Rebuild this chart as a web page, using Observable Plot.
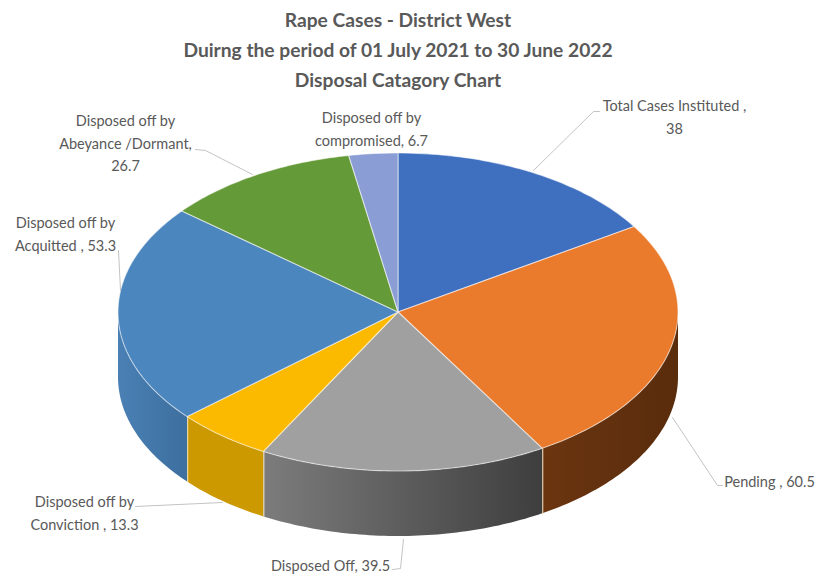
<!DOCTYPE html>
<html>
<head>
<meta charset="utf-8">
<script src="https://cdn.jsdelivr.net/npm/d3@7"></script>
<script src="https://cdn.jsdelivr.net/npm/@observablehq/plot@0.6"></script>
<style>
  html, body { margin: 0; background: #fff; }
  #title { box-sizing: border-box; width: 796px; height: 97px; padding-top: 5px; text-align: center;
           font: bold 19.2px/30px Lato, sans-serif; color: #595959; }
  svg { display: block; }
</style>
</head>
<body>
<div id="title">Rape Cases - District West<br>Duirng the period of 01 July 2021 to 30 June 2022<br>Disposal Catagory Chart</div>
<div id="chart"></div>
<script>
// Disposal categories, clockwise from twelve o'clock
const categories = ["Total Cases Instituted", "Pending", "Disposed Off", "Conviction", "Acquitted", "Abeyance", "Compromised"];
const values = [38, 60.5, 39.5, 13.3, 53.3, 26.7, 6.7];
const labelPrefixes = ["Total Cases Instituted ,\n", "Pending , ", "Disposed Off, ", "Disposed off by\nConviction , ", "Disposed off by\nAcquitted , ", "Disposed off by\nAbeyance /Dormant,\n", "Disposed off by\ncompromised, "];
const topColors = ["#3f6fbf", "#ea7b2c", "#a0a0a0", "#fbb900", "#4c86be", "#649a38", "#8a9dd4"];
const sideStart = ["#2b4d85", "#6b3510", "#7c7c7c", "#cc9a00", "#4a80b4", "#47702a", "#6072a0"];
const sideEnd = ["#2b4d85", "#592c0c", "#3e3e3e", "#cc9a00", "#3d6f9f", "#47702a", "#6072a0"];

// Label block centres and leader paths, in page pixels
const labelX = [674, 769, 330, 84, 65, 125, 371];
const labelY = [115, 479, 563, 511, 232, 141, 127];
const leaders = [
  [[533, 170], [593, 111], [599, 111]],
  [[672, 417], [717, 485], [722, 485]],
  [[403, 539], [400, 568], [392, 569]],
  [[222, 502], [135, 506]],
  [[120, 290], [118, 250]],
  [[252, 174], [205, 150], [195, 149]]
];

// Pie geometry: ellipse of the top face plus the wall depth
const width = 819, height = 480, titleHeight = 97;
const cx = 398, cy = 312, rx = 280, ry = 159, depth = 65;

const toRim = (a, drop = 0) => ({x: cx + rx * Math.sin(a), y: cy - ry * Math.cos(a) + drop});
const slices = d3.pie().sort(null)(values);

function arcAngles(from, to) {
  const n = Math.max(1, Math.ceil((to - from) / (Math.PI / 180)));
  return d3.range(n + 1).map((i) => from + (to - from) * i / n);
}

// Top face of each slice: a fan from the centre to the rim
const topMarks = slices.map((s, i) =>
  Plot.area(arcAngles(s.startAngle, s.endAngle).map((a) => toRim(a)), {
    x1: () => cx, y1: () => cy, x2: "x", y2: "y",
    fill: topColors[i], stroke: "#fff", strokeOpacity: 0.55, strokeWidth: 1.1
  })
);

// Wall of each slice: only the part facing the viewer
const frontFrom = Math.PI / 2, frontTo = 3 * Math.PI / 2;
const wallMarks = slices.flatMap((s, i) => {
  const from = Math.max(s.startAngle, frontFrom), to = Math.min(s.endAngle, frontTo);
  if (to <= from) return [];
  const rows = arcAngles(from, to).map((a) => ({top: toRim(a), bottom: toRim(a, depth)}));
  return [Plot.area(rows, {
    x1: (d) => d.top.x, y1: (d) => d.top.y, x2: (d) => d.bottom.x, y2: (d) => d.bottom.y,
    fill: `url(#wall-${i})`
  })];
});

// Seams between neighbouring walls
const seams = slices
  .filter((s) => s.startAngle > frontFrom && s.startAngle < frontTo)
  .map((s) => [toRim(s.startAngle), toRim(s.startAngle, depth)]);
const seamMarks = seams.map((pts) =>
  Plot.line(pts, {x: "x", y: "y", stroke: "#f5e6c8", strokeOpacity: 0.8, strokeWidth: 1.2})
);

// Horizontal shading for the walls
const wallGradients = () => {
  const defs = d3.create("svg:defs");
  slices.forEach((s, i) => {
    const g = defs.append("linearGradient").attr("id", `wall-${i}`);
    g.append("stop").attr("offset", "0%").attr("stop-color", sideStart[i]);
    g.append("stop").attr("offset", "100%").attr("stop-color", sideEnd[i]);
  });
  return defs.node();
};

const labels = categories.map((c, i) => ({
  text: labelPrefixes[i] + values[i],
  x: labelX[i],
  y: labelY[i]
}));

const chart = Plot.plot({
  width, height,
  margin: 0,
  style: {background: "#fff"},
  x: {domain: [0, width], range: [0, width], axis: null},
  y: {domain: [titleHeight, titleHeight + height], range: [0, height], axis: null},
  marks: [
    wallGradients,
    ...wallMarks,
    ...seamMarks,
    ...topMarks,
    ...leaders.map((pts) => Plot.line(pts, {x: (d) => d[0], y: (d) => d[1], stroke: "#c4c4c4", strokeWidth: 1})),
    Plot.text(labels, {
      x: "x", y: "y", text: "text", textAnchor: "middle", lineAnchor: "middle",
      lineHeight: 1.56, fontSize: 14.5, fontFamily: "Lato, sans-serif", fill: "#595959"
    })
  ]
});
document.getElementById("chart").append(chart);
</script>
</body>
</html>
